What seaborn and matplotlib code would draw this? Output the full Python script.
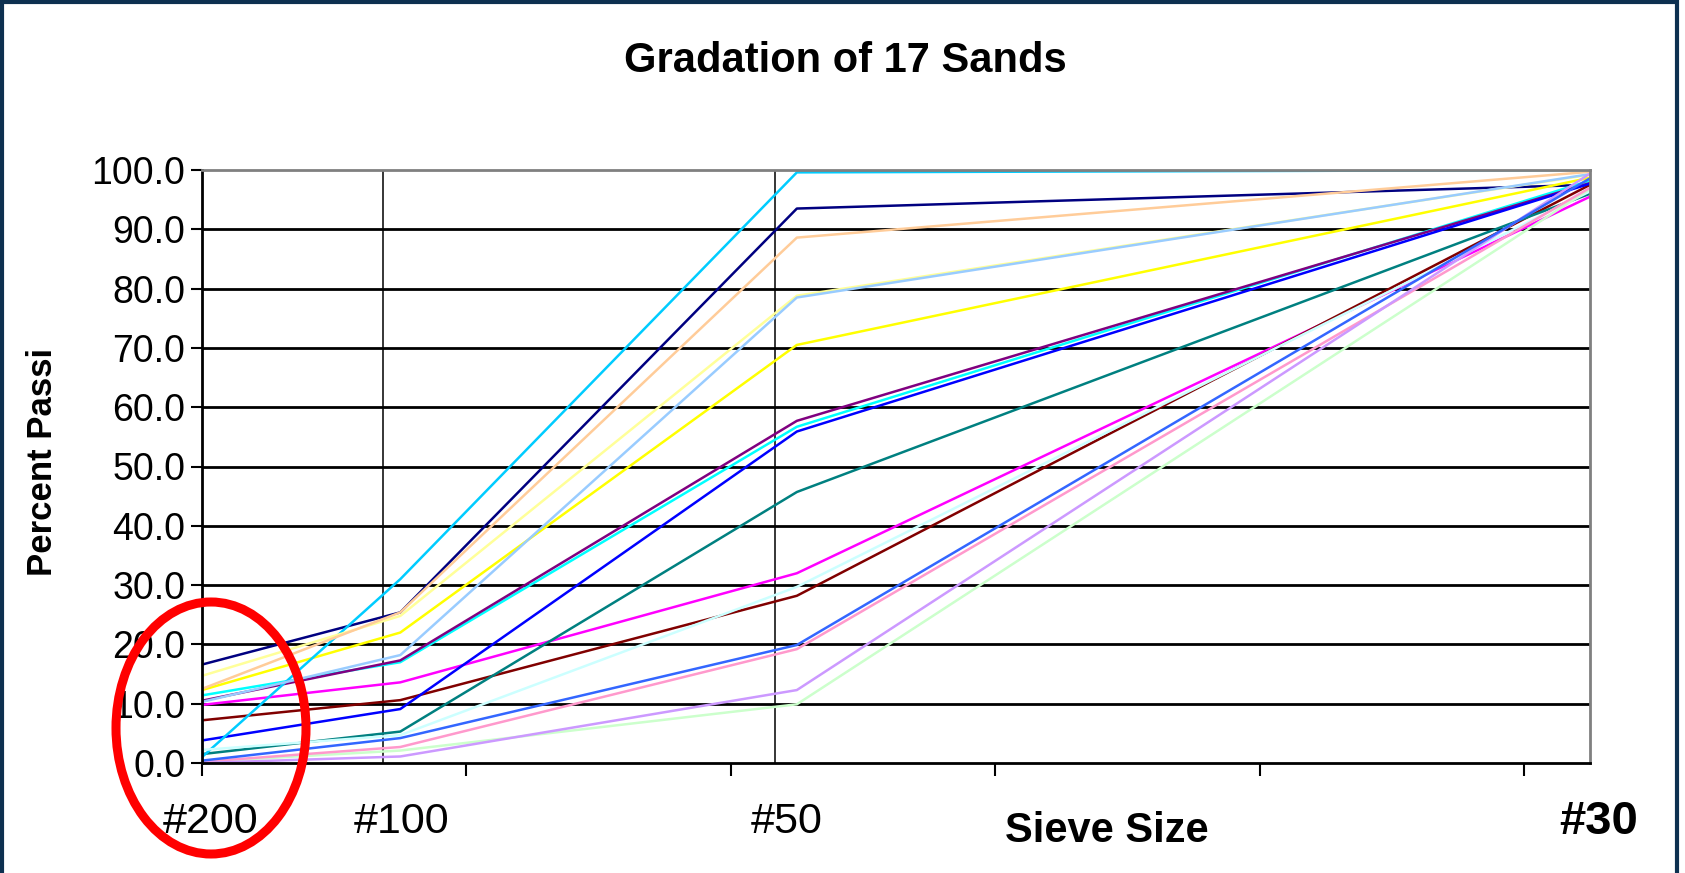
import matplotlib
matplotlib.use("Agg")
import matplotlib.pyplot as plt
from matplotlib.patches import Ellipse
from matplotlib.lines import Line2D
import seaborn as sns
import pandas as pd
import numpy as np

# ---------------- data ----------------
sieve_labels = ["#200", "#100", "#50", "#30"]
sieve_mm = [0.075, 0.15, 0.30, 0.60]

sand_names = [f"Sand {i}" for i in range(1, 18)]

pass_200 = [16.6, 9.8, 12.3, 11.4, 10.5, 7.2, 1.5, 3.8, 1.0, 2.2, 0.2, 14.7, 10.3, 0.2, 0.0, 12.5, 0.4]
pass_100 = [25.4, 13.6, 22.0, 17.0, 17.3, 10.6, 5.3, 9.1, 31.0, 4.7, 2.1, 24.8, 18.2, 2.7, 1.1, 25.4, 4.2]
pass_50 = [93.5, 32.0, 70.5, 56.7, 57.7, 28.2, 45.7, 55.9, 99.6, 29.7, 9.9, 78.8, 78.5, 19.2, 12.3, 88.6, 19.9]
pass_30 = [97.5, 95.5, 98.7, 98.2, 97.8, 97.5, 96.0, 97.7, 100.0, 96.4, 96.8, 99.2, 99.3, 97.0, 99.4, 99.7, 98.6]

sand_colors = ["#000080", "#FF00FF", "#FFFF00", "#00FFFF", "#800080", "#800000",
               "#008080", "#0000FF", "#00CCFF", "#CCFFFF", "#CCFFCC", "#FFFF99",
               "#99CCFF", "#FF99CC", "#CC99FF", "#FFCC99", "#3366FF"]

rows = []
for i, name in enumerate(sand_names):
    for mm, vals in zip(sieve_mm, [pass_200, pass_100, pass_50, pass_30]):
        rows.append({"sand": name, "size": mm, "pct": vals[i]})
df = pd.DataFrame(rows)

# ---------------- figure ----------------
sns.set_style("white")
plt.rcParams["font.family"] = ["Liberation Sans", "DejaVu Sans"]
plt.rcParams["text.color"] = "black"
plt.rcParams["axes.labelcolor"] = "black"
plt.rcParams["xtick.color"] = "black"
plt.rcParams["ytick.color"] = "black"

W, H = 1685, 873
fig = plt.figure(figsize=(W / 100, H / 100), dpi=100)
ax = fig.add_axes([202 / W, 1 - 763 / H, (1590 - 202) / W, (763 - 170) / H])

# horizontal gridlines
for yv in range(10, 100, 10):
    ax.axhline(yv, color="black", lw=2.0, zorder=0.5)
# vertical marker lines
for xv in [0.1435, 0.2917]:
    ax.axvline(xv, color="black", lw=1.1, zorder=0.6)

sns.lineplot(data=df, x="size", y="pct", hue="sand", palette=sand_colors,
             hue_order=sand_names, sort=False, lw=1.8, legend=False, ax=ax,
             zorder=2)

ax.set_xlim(0.075, 0.6)
ax.set_ylim(0, 100)
ax.set_yticks(np.arange(0, 101, 10))
ax.set_yticklabels([f"{v:.1f}" for v in np.arange(0, 101, 10)])
ax.set_xticks([0.075, 0.175, 0.275, 0.375, 0.475, 0.575])
ax.set_xticklabels([])
ax.tick_params(axis="y", direction="out", length=8, width=1.5, pad=4,
               labelsize=27, colors="black", left=True)
ax.tick_params(axis="x", direction="out", length=9, width=1.5, bottom=True,
               colors="black")
ax.set_xlabel("")
ax.set_ylabel("")

for s in ["left", "bottom"]:
    ax.spines[s].set_color("black")
    ax.spines[s].set_linewidth(2.0)
for s in ["top", "right"]:
    ax.spines[s].set_color("#808080")
    ax.spines[s].set_linewidth(2.0)

# sieve labels under axis
trans = ax.get_xaxis_transform()
label_x = [0.0784, 0.1506, 0.2963]
for lab, xv in zip(sieve_labels[:3], label_x):
    ax.text(xv, -0.10, lab, transform=trans, ha="center", va="center",
            fontsize=31, color="black", clip_on=False)
ax.text(0.6034, -0.10, sieve_labels[3], transform=trans, ha="center",
        va="center", fontsize=34, fontweight="bold", color="black", clip_on=False)
ax.text(0.4173, -0.115, "Sieve Size", transform=trans, ha="center",
        va="center", fontsize=30, fontweight="bold", color="black", clip_on=False)

fig.text(845 / W, 1 - 61 / H, "Gradation of 17 Sands", ha="center",
         va="center", fontsize=30, fontweight="bold", color="black")
fig.text(43 / W, 1 - 462 / H, "Percent Passi", ha="center", va="center",
         rotation=90, fontsize=25, fontweight="bold", color="black")

# red ellipse highlight
ell = Ellipse((211 / W, 1 - 728 / H), 190 / W, 252 / H, transform=fig.transFigure,
              fill=False, edgecolor="#FF0000", lw=6.5, zorder=10)
fig.patches.append(ell)

# dark frame
frame_c = "#0d3050"
for xs, ys in [([1.5 / W, 1.5 / W], [0, 1]),
               ([0, 1677 / W], [1 - 1.5 / H, 1 - 1.5 / H]),
               ([1677 / W, 1677 / W], [0, 1])]:
    fig.lines.append(Line2D(xs, ys, transform=fig.transFigure, color=frame_c, lw=3))

fig.savefig("out.png", dpi=100)
